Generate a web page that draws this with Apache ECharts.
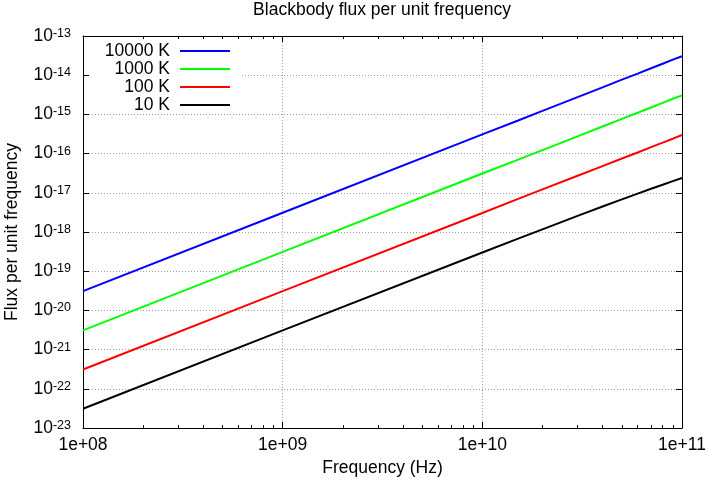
<!DOCTYPE html>
<html>
<head>
<meta charset="utf-8">
<script src="https://cdn.jsdelivr.net/npm/echarts@6/dist/echarts.min.js"></script>
<style>html,body{margin:0;padding:0;background:#fff}#c{width:707px;height:483px}</style>
</head>
<body>
<div id="c"></div>
<script>
var frequencies = [1e8, 1e9, 1e10, 1.5e10, 2e10, 3e10, 4e10, 5e10, 6e10, 7e10, 8e10, 9e10, 1e11];
// Flux per unit frequency for each temperature
var flux10000K = [3.1e-20, 3.1e-18, 3.1e-16, 6.9e-16, 1.23e-15, 2.76e-15, 4.9e-15, 7.7e-15, 1.1e-14, 1.5e-14, 1.96e-14, 2.5e-14, 3.05e-14];
var flux1000K  = [3.1e-21, 3.1e-19, 3.1e-17, 6.9e-17, 1.23e-16, 2.76e-16, 4.9e-16, 7.7e-16, 1.1e-15, 1.5e-15, 1.96e-15, 2.5e-15, 3.05e-15];
var flux100K   = [3.1e-22, 3.1e-20, 3.06e-18, 6.9e-18, 1.22e-17, 2.73e-17, 4.8e-17, 7.5e-17, 1.07e-16, 1.46e-16, 1.9e-16, 2.4e-16, 2.99e-16];
var flux10K    = [3.1e-23, 3.1e-21, 3.0e-19, 6.67e-19, 1.17e-18, 2.57e-18, 4.46e-18, 6.79e-18, 9.54e-18, 1.27e-17, 1.61e-17, 1.99e-17, 2.39e-17];
var seriesNames = ['10000 K', '1000 K', '100 K', '10 K'];
var seriesColors = ['#0000ff', '#00ff00', '#ff0000', '#000000'];
// Axis ranges (decades)
var xDecadeMin = 8, xDecadeMax = 11;
var yDecadeMin = -23, yDecadeMax = -13;
var minorMultipliers = [2, 3, 4, 5, 6, 7, 8, 9];

var FONT = 'Liberation Sans, Arial, Helvetica, sans-serif';
var allFlux = [flux10000K, flux1000K, flux100K, flux10K];

function toPoints(vals) {
  return frequencies.map(function (f, i) { return [Math.log10(f), Math.log10(vals[i])]; });
}
var minorX = [];
for (var d = xDecadeMin; d < xDecadeMax; d++) {
  minorMultipliers.forEach(function (m) { minorX.push(d + Math.log10(m)); });
}
function pad2(n) { return (n < 10 ? '0' : '') + n; }

var chart = echarts.init(document.getElementById('c'), null, {renderer: 'canvas'});

var axisLineStyle = {color: '#000', width: 1};
function xAxisBase(pos) {
  return {
    type: 'value', gridIndex: 0, position: pos, min: xDecadeMin, max: xDecadeMax, interval: 1,
    axisLine: {show: true, onZero: false, lineStyle: axisLineStyle},
    axisTick: {show: true, inside: true, length: 6, lineStyle: axisLineStyle},
    axisLabel: {show: false},
    splitLine: {show: false}
  };
}
function xMinor(pos) {
  return {
    type: 'value', gridIndex: 0, position: pos, min: xDecadeMin, max: xDecadeMax, interval: 1,
    axisLine: {show: false},
    axisTick: {show: true, inside: true, length: 3, lineStyle: axisLineStyle, customValues: minorX},
    axisLabel: {show: false},
    splitLine: {show: false}
  };
}
var xMain = xAxisBase('bottom');
xMain.axisLabel = {
  show: true, margin: 8, color: '#000', fontFamily: FONT, fontSize: 17.5,
  formatter: function (v) { return '1e+' + pad2(Math.round(v)); }
};
xMain.splitLine = {show: true, lineStyle: {type: [1, 2], color: '#a0a0a0', width: 1}};
xMain.name = 'Frequency (Hz)';
xMain.nameLocation = 'middle';
xMain.nameGap = 27;
xMain.nameTextStyle = {color: '#000', fontFamily: FONT, fontSize: 17.5};

function yAxisBase(pos) {
  return {
    type: 'value', gridIndex: 0, position: pos, min: yDecadeMin, max: yDecadeMax, interval: 1,
    axisLine: {show: true, onZero: false, lineStyle: axisLineStyle},
    axisTick: {show: true, inside: true, length: 6, lineStyle: axisLineStyle},
    axisLabel: {show: false},
    splitLine: {show: false}
  };
}
var yMain = yAxisBase('left');
yMain.axisLabel = {
  show: true, margin: 12, color: '#000', fontFamily: FONT,
  formatter: function (v) { return '{b|10}{s|' + Math.round(v) + '}'; },
  rich: {
    b: {fontSize: 17.5, lineHeight: 18, fontFamily: FONT, color: '#000', padding: [4.5, 0, 0, 0], verticalAlign: 'bottom'},
    s: {fontSize: 12.5, lineHeight: 13, fontFamily: FONT, color: '#000', verticalAlign: 'top'}
  }
};
yMain.splitLine = {show: true, lineStyle: {type: [1, 2], color: '#a0a0a0', width: 1}};
yMain.name = 'Flux per unit frequency';
yMain.nameLocation = 'middle';
yMain.nameGap = 62;
yMain.nameTextStyle = {color: '#000', fontFamily: FONT, fontSize: 17.5};

var legendRowTops = [42, 60, 78, 96];
var legends = seriesNames.map(function (n, i) {
  return {
    data: [n], orient: 'vertical', right: 477, top: legendRowTops[i], align: 'right',
    icon: 'rect', itemWidth: 50, itemHeight: 2, itemGap: 0, padding: 0, selectedMode: false,
    textStyle: {fontFamily: FONT, fontSize: 17.5, lineHeight: 18, color: '#000', padding: [0, 5, 0, 0]}
  };
});

var series = seriesNames.map(function (n, i) {
  return {
    name: n, type: 'line', xAxisIndex: 0, yAxisIndex: 0, data: toPoints(allFlux[i]),
    symbol: 'none', showSymbol: false, smooth: false, animation: false,
    lineStyle: {color: seriesColors[i], width: 2}, itemStyle: {color: seriesColors[i]}, z: 3
  };
});

chart.setOption({
  animation: false,
  backgroundColor: '#fff',
  title: {
    text: 'Blackbody flux per unit frequency', left: 382, top: 1, textAlign: 'center', padding: 0,
    textStyle: {fontFamily: FONT, fontSize: 17.5, fontWeight: 'normal', color: '#000'}
  },
  grid: {left: 83, right: 25, top: 36, bottom: 55, containLabel: false, outerBoundsMode: 'none'},
  xAxis: [xMain, xAxisBase('top'), xMinor('bottom'), xMinor('top')],
  yAxis: [yMain, yAxisBase('right')],
  legend: legends,
  graphic: [{type: 'rect', shape: {x: 89, y: 40, width: 151, height: 70}, style: {fill: '#fff'}, z: 1, silent: true}],
  series: series
});
</script>
</body>
</html>
